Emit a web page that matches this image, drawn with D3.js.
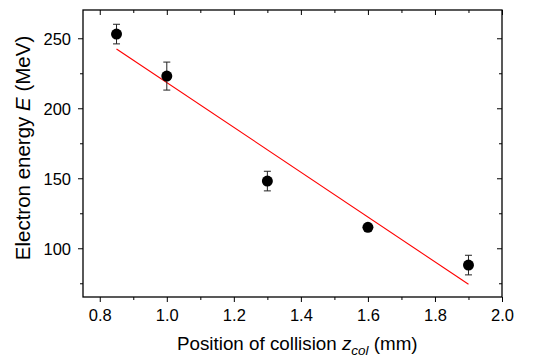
<!DOCTYPE html>
<html><head><meta charset="utf-8">
<script src="https://cdn.jsdelivr.net/npm/d3@7"></script>
<style>body{margin:0;background:#fff;} text{font-family:"Liberation Sans",Arial,sans-serif;}</style>
</head><body><svg id="c" width="553" height="362"></svg>
<script>
const positions = [0.85, 1.0, 1.3, 1.6, 1.9];
const energies = [253, 223, 148, 115, 88];
const errors = [7, 10, 7, 2, 7];
const fitX = [0.85, 1.9];
const fitY = [242.4, 74.3];
const xTicks = [0.8, 1.0, 1.2, 1.4, 1.6, 1.8, 2.0];
const xMinor = [0.9, 1.1, 1.3, 1.5, 1.7, 1.9];
const yTicks = [100, 150, 200, 250];
const yMinor = [75, 125, 175, 225];

const svg = d3.select("#c");
const L = 83, R = 502, T = 10, B = 297;
const x = d3.scaleLinear().domain([0.75, 2.0]).range([L, R]);
const y = d3.scaleLinear().domain([65.2, 270.2]).range([B, T]);

function axis(gen, tr, ticks, len, labels) {
  const g = svg.append("g").attr("transform", tr)
    .call(gen.tickValues(ticks).tickSize(len).tickSizeOuter(0).tickPadding(7)
      .tickFormat(labels ? d3.format(".1f") : ""));
  g.select(".domain").remove();
  g.selectAll("line").attr("stroke", "#000").attr("stroke-width", 1);
  g.selectAll("text").attr("font-size", 16.5).attr("fill", "#000");
  return g;
}
// bottom
axis(d3.axisBottom(x), `translate(0,${B})`, xTicks, 5, true);
axis(d3.axisBottom(x), `translate(0,${B})`, xMinor, 3, false);
// top (inward)
axis(d3.axisBottom(x), `translate(0,${T})`, xTicks, 5, false);
axis(d3.axisBottom(x), `translate(0,${T})`, xMinor, 3, false);
// left
const gl = axis(d3.axisLeft(y), `translate(${L},0)`, yTicks, 5, false);
gl.selectAll("text").remove();
gl.call(g => g.selectAll(".tick").append("text").attr("x", -12).attr("dy", "0.36em")
  .attr("text-anchor", "end").attr("font-size", 16.5).attr("fill", "#000").text(d => d));
axis(d3.axisLeft(y), `translate(${L},0)`, yMinor, 3, false);
// right (inward)
axis(d3.axisLeft(y), `translate(${R},0)`, yTicks, 5, false);
axis(d3.axisLeft(y), `translate(${R},0)`, yMinor, 3, false);

svg.append("rect").attr("x", L).attr("y", T).attr("width", R - L).attr("height", B - T)
  .attr("fill", "none").attr("stroke", "#000").attr("stroke-width", 1.3);

// fit line
svg.append("path").datum(fitX.map((d, i) => [d, fitY[i]]))
  .attr("d", d3.line().x(d => x(d[0])).y(d => y(d[1])))
  .attr("stroke", "#ff0000").attr("stroke-width", 1.1).attr("fill", "none");

// error bars
const eb = svg.append("g").attr("stroke", "#222").attr("stroke-width", 1);
positions.forEach((p, i) => {
  const cx = x(p), y1 = y(energies[i] + errors[i]), y2 = y(energies[i] - errors[i]);
  eb.append("line").attr("x1", cx).attr("x2", cx).attr("y1", y1).attr("y2", y2);
  eb.append("line").attr("x1", cx - 3.5).attr("x2", cx + 3.5).attr("y1", y1).attr("y2", y1);
  eb.append("line").attr("x1", cx - 3.5).attr("x2", cx + 3.5).attr("y1", y2).attr("y2", y2);
});
svg.append("g").selectAll("circle").data(positions).join("circle")
  .attr("cx", d => x(d)).attr("cy", (d, i) => y(energies[i])).attr("r", 5.5).attr("fill", "#000");

// axis titles
const xt = svg.append("text").attr("x", 177).attr("y", 350).attr("text-anchor", "start")
  .attr("font-size", 18.8).attr("fill", "#000");
xt.append("tspan").text("Position of collision ");
xt.append("tspan").attr("font-style", "italic").text("z");
xt.append("tspan").attr("font-style", "italic").attr("font-size", 13.5).attr("dy", 5).text("col");
xt.append("tspan").attr("dy", -5).text(" (mm)");

const yt = svg.append("text").attr("transform", `translate(30,148) rotate(-90)`)
  .attr("text-anchor", "middle").attr("font-size", 20.5).attr("fill", "#000");
yt.append("tspan").text("Electron energy ");
yt.append("tspan").attr("font-style", "italic").text("E");
yt.append("tspan").text(" (MeV)");
</script></body></html>
